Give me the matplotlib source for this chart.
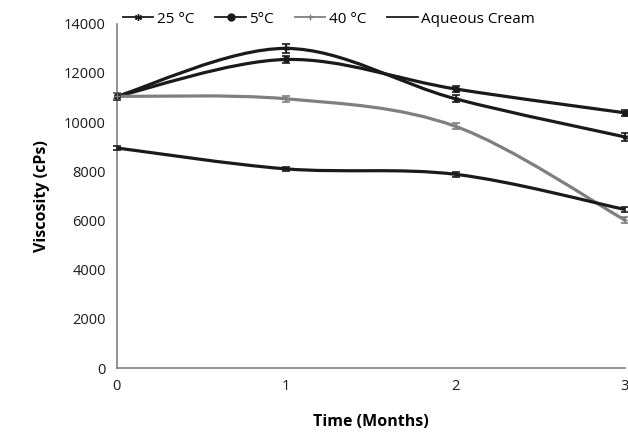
import matplotlib.pyplot as plt
import numpy as np
from matplotlib.path import Path
from matplotlib.patches import PathPatch
from matplotlib.lines import Line2D

# Data
months = [0, 1, 2, 3]
visc_25 = [11050, 13000, 10950, 9400]
visc_5 = [11050, 12550, 11350, 10380]
visc_40 = [11050, 10950, 9830, 6020]
visc_aq = [8950, 8100, 7880, 6450]
err_25 = [150, 180, 150, 150]
err_5 = [120, 130, 120, 120]
err_40 = [120, 130, 120, 130]
err_aq = [100, 90, 100, 100]

labels = ['25 °C', '5°C', '40 °C', 'Aqueous Cream']
colors = ['#1a1a1a', '#1a1a1a', '#7f7f7f', '#1a1a1a']
markers = [(6, 2, 0), 'o', '+', None]

plt.rcParams['font.family'] = ['Open Sans', 'DejaVu Sans']


def smooth_path(x, y):
    # Excel-style smoothed line as cubic Bezier segments through the points
    x = np.asarray(x, float)
    y = np.asarray(y, float)
    n = len(x)
    verts = [(x[0], y[0])]
    codes = [Path.MOVETO]
    for i in range(n - 1):
        xp, yp = (x[i - 1], y[i - 1]) if i > 0 else (x[i], y[i])
        xn, yn = (x[i + 2], y[i + 2]) if i + 2 < n else (x[i + 1], y[i + 1])
        c1 = (x[i] + (x[i + 1] - xp) / 6, y[i] + (y[i + 1] - yp) / 6)
        c2 = (x[i + 1] - (xn - x[i]) / 6, y[i + 1] - (yn - y[i]) / 6)
        verts += [c1, c2, (x[i + 1], y[i + 1])]
        codes += [Path.CURVE4] * 3
    return Path(verts, codes)


fig = plt.figure(figsize=(6.28, 4.33), dpi=100)
ax = fig.add_axes([0.186, 0.150, 0.809, 0.795])

series = [visc_25, visc_5, visc_40, visc_aq]
errs = [err_25, err_5, err_40, err_aq]
handles = []
for vals, e, col, mk, lab in zip(series, errs, colors, markers, labels):
    ax.add_patch(PathPatch(smooth_path(months, vals), facecolor='none',
                           edgecolor=col, lw=2.3, zorder=3))
    ax.errorbar(months, vals, yerr=e, fmt='none', ecolor=col, elinewidth=1.2,
                capsize=3, capthick=1.2, zorder=4, clip_on=False)
    if mk is not None:
        ax.plot(months, vals, linestyle='none', marker=mk, color=col,
                markersize=4, zorder=5, clip_on=False)
    handles.append(Line2D([], [], color=col, lw=1.3, marker=mk,
                          markersize=5, label=lab))

ax.set_xlim(0, 3)
ax.set_ylim(0, 14000)
ax.set_xticks(months)
ax.set_yticks(range(0, 14001, 2000))
ax.tick_params(axis='both', length=0, labelsize=10.5, colors='#1a1a1a', pad=8)

for s in ['top', 'right']:
    ax.spines[s].set_visible(False)
for s in ['left', 'bottom']:
    ax.spines[s].set_color('#808080')
    ax.spines[s].set_linewidth(1.2)

ax.set_xlabel('Time (Months)', fontsize=11.5, fontweight='bold', labelpad=14)
ax.set_ylabel('Viscosity (cPs)', fontsize=11.5, fontweight='bold', labelpad=10)

ax.legend(handles=handles, loc='upper left', bbox_to_anchor=(-0.015, 1.075),
          ncol=4, frameon=False, fontsize=11, handlelength=2.0,
          columnspacing=1.4, handletextpad=0.2)

fig.savefig('out.png', dpi=100)
